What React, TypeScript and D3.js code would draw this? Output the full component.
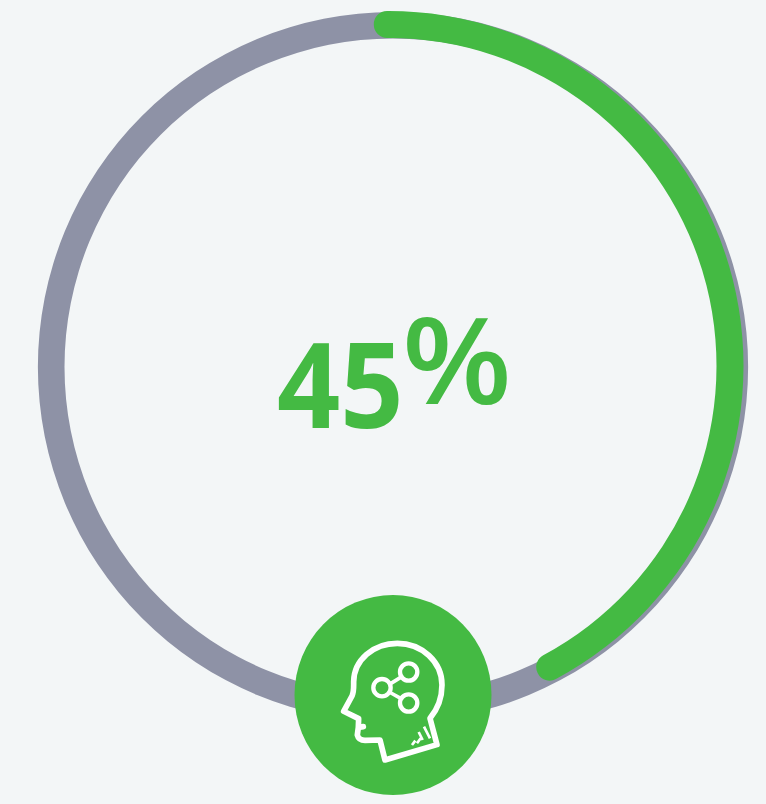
import React from "react";
import * as d3 from "d3";

const displayValue = [45];
const progressFraction = [0.428];
const colors = { bg: "#f3f6f7", track: "#8e92a6", green: "#44ba43" };

const TAU = Math.PI * 2;

export default function App() {
  const track = d3.arc()({ innerRadius: 328.5, outerRadius: 355, startAngle: 0, endAngle: TAU }) as string;
  const progress = d3.arc().cornerRadius(13.25)({
    innerRadius: 328,
    outerRadius: 355,
    startAngle: -0.043,
    endAngle: progressFraction[0] * TAU,
  }) as string;
  return (
    <div style={{ position: "fixed", left: 0, top: 0, width: 766, height: 804, background: colors.bg }}>
      <svg width={766} height={804} viewBox="0 0 766 804" style={{ display: "block" }}>
        <rect width={766} height={804} fill={colors.bg} />
        <path d={track} transform="translate(393,367)" fill={colors.track} />
        <path d={progress} transform="translate(388.5,366)" fill={colors.green} />
        <text transform="translate(277,428) scale(0.93,1)" fontFamily="'Open Sans'" fontWeight={700} fontSize={119} fill={colors.green}>{displayValue[0]}</text>
        <text transform="translate(402,404) scale(1.06,1)" fontFamily="'Open Sans'" fontWeight={600} fontSize={120} fill={colors.green}>%</text>
        <ellipse cx={393} cy={695} rx={98.5} ry={100} fill={colors.green} />
        <g transform="translate(290,590) scale(0.3333)" fill="none" stroke="#fff" strokeWidth={17} strokeLinejoin="round" strokeLinecap="round">
          <path d="M285,510 L441,464 L420,385 C445,355 456,325 456,285 C456,215 395,160 322,160 C250,160 192,210 191,275 C191,295 192,305 186,318 L161,364 L206,386 L205,412 L220,410 L205,412 L202,435 C205,447 212,451 225,451 L270,450 Z" />
          <circle cx={276} cy={293} r={26} strokeWidth={13} />
          <circle cx={356} cy={246} r={26} strokeWidth={13} />
          <circle cx={356} cy={339} r={26} strokeWidth={13} />
          <path d="M303,280 L332,262 M303,309 L332,325" strokeWidth={11} />
          <path d="M366,465 L376,452 M381,460 L392,445 M398,450 L386,426 M420,445 L402,410" strokeWidth={8} strokeLinecap="butt" />
        </g>
      </svg>
    </div>
  );
}
